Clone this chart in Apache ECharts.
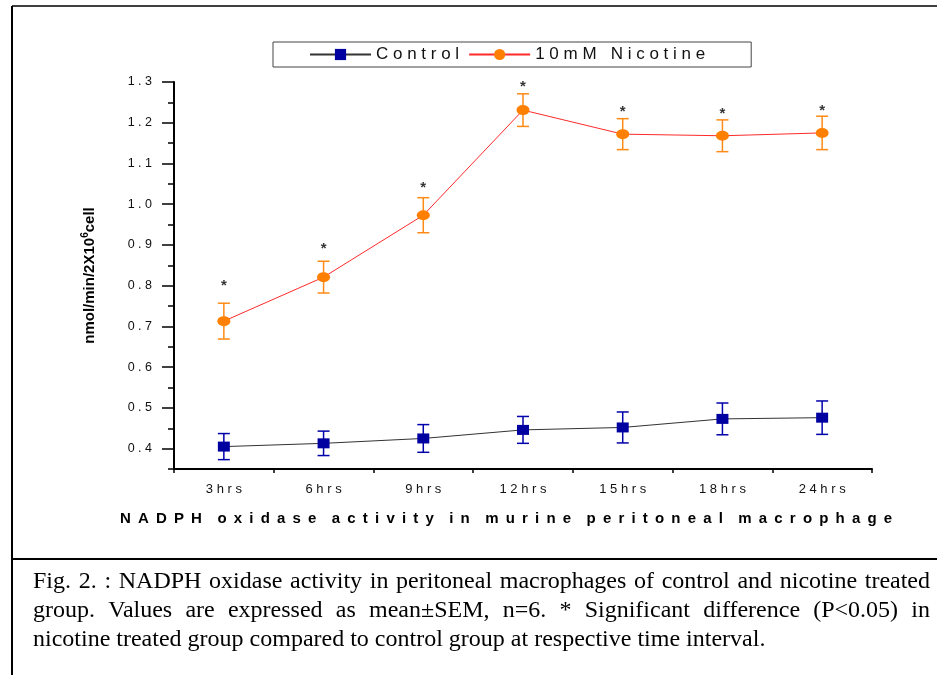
<!DOCTYPE html>
<html>
<head>
<meta charset="utf-8">
<script src="https://cdn.jsdelivr.net/npm/echarts@6/dist/echarts.min.js"></script>
<style>
html, body { margin: 0; padding: 0; background: #fff; }
#container { width: 937px; height: 675px; }
</style>
</head>
<body>
<div id="container"></div>
<script>
// values
var times = ['3hrs', '6hrs', '9hrs', '12hrs', '15hrs', '18hrs', '24hrs'];
var controlMean = [0.405, 0.413, 0.425, 0.446, 0.452, 0.473, 0.476];
var controlSem = [0.032, 0.030, 0.034, 0.033, 0.038, 0.039, 0.041];
var nicotineMean = [0.713, 0.821, 0.973, 1.231, 1.172, 1.168, 1.175];
var nicotineSem = [0.044, 0.039, 0.043, 0.040, 0.038, 0.039, 0.041];
var starLevel = [0.807, 0.897, 1.047, 1.295, 1.234, 1.229, 1.237];
var yMajor = [0.4, 0.5, 0.6, 0.7, 0.8, 0.9, 1.0, 1.1, 1.2, 1.3];
var yMinor = [0.35, 0.45, 0.55, 0.65, 0.75, 0.85, 0.95, 1.05, 1.15, 1.25];
var captionLines = [
    'Fig. 2. : NADPH oxidase activity in peritoneal macrophages of control and nicotine treated',
    'group. Values are expressed as mean\u00b1SEM, n=6. * Significant difference (P<0.05) in',
    'nicotine treated group compared to control group at respective time interval.'
];

var sans = "'Liberation Sans', Arial, sans-serif";

// spread letters out like the original scan
function spaced(s, gap, wordGap) {
    return s.split(' ').map(function (w) {
        return w.split('').join(gap);
    }).join(wordGap);
}

function errorSeries(name, mean, sem, color) {
    return {
        name: name + ' err',
        type: 'custom',
        z: 3,
        silent: true,
        data: times.map(function (t, i) { return [i, mean[i] - sem[i], mean[i] + sem[i]]; }),
        encode: { x: 0, y: [1, 2] },
        renderItem: function (params, api) {
            var lo = api.coord([api.value(0), api.value(1)]);
            var hi = api.coord([api.value(0), api.value(2)]);
            var w = 6;
            var st = { stroke: color, lineWidth: 1.5 };
            return {
                type: 'group',
                children: [
                    { type: 'line', shape: { x1: lo[0], y1: lo[1], x2: hi[0], y2: hi[1] }, style: st },
                    { type: 'line', shape: { x1: lo[0] - w, y1: lo[1], x2: lo[0] + w, y2: lo[1] }, style: st },
                    { type: 'line', shape: { x1: hi[0] - w, y1: hi[1], x2: hi[0] + w, y2: hi[1] }, style: st }
                ]
            };
        }
    };
}

// justified caption under the chart
var capFont = '24px "Liberation Serif", "Times New Roman", serif';
var ctx = document.createElement('canvas').getContext('2d');
ctx.font = capFont;
function captionGraphics() {
    var out = [];
    captionLines.forEach(function (line, li) {
        var y = 582 + li * 29;
        var words = line.split(' ');
        var widths = words.map(function (w) { return ctx.measureText(w).width; });
        var total = widths.reduce(function (a, b) { return a + b; }, 0);
        var justify = li < captionLines.length - 1;
        var gap = justify ? (930 - 33 - total) / (words.length - 1) : ctx.measureText(' ').width;
        var x = 33;
        words.forEach(function (w, i) {
            out.push({
                type: 'text', x: x, y: y, silent: true,
                style: { text: w, font: capFont, fill: '#000', verticalAlign: 'middle' }
            });
            x += widths[i] + gap;
        });
    });
    return out;
}

var gridBox = { left: 174, right: 65, top: 82, bottom: 206 };

var dom = document.getElementById('container');
var myChart = echarts.init(dom);
var option = {
    animation: false,
    backgroundColor: '#fff',
    textStyle: { fontFamily: sans },
    legend: {
        data: ['Control', '10mM Nicotine'],
        left: 273,
        top: 42,
        padding: [4, 46, 4, 36],
        itemWidth: 61,
        itemHeight: 14,
        itemGap: 9,
        borderColor: '#444',
        borderWidth: 1,
        backgroundColor: '#fff',
        textStyle: { fontFamily: sans, fontSize: 17, color: '#111' },
        formatter: function (n) { return spaced(n, ' ', '   '); }
    },
    // second grid on top of the first only carries the short ticks
    grid: [
        Object.assign({}, gridBox),
        Object.assign({}, gridBox)
    ],
    xAxis: [{
        type: 'category',
        gridIndex: 0,
        data: times,
        boundaryGap: true,
        name: spaced('NADPH oxidase activity in murine peritoneal macrophage', ' \u2009', '   \u2009'),
        nameLocation: 'middle',
        nameGap: 42,
        nameTextStyle: { fontFamily: sans, fontSize: 15, fontWeight: 'bold', color: '#000', padding: [0, 34, 0, 0] },
        axisLine: { lineStyle: { color: '#000', width: 2 } },
        axisTick: { alignWithLabel: true, length: 8, lineStyle: { color: '#000', width: 1.5 } },
        axisLabel: {
            margin: 14, fontSize: 13, color: '#111',
            formatter: function (v) { return spaced(v, ' ', ' '); }
        },
        splitLine: { show: false }
    }, {
        type: 'category',
        gridIndex: 1,
        data: times,
        boundaryGap: true,
        position: 'bottom',
        axisLine: { show: false },
        axisTick: { show: true, alignWithLabel: false, length: 4, lineStyle: { color: '#000', width: 1.5 } },
        axisLabel: { show: false },
        splitLine: { show: false }
    }],
    yAxis: [{
        type: 'value',
        gridIndex: 0,
        min: 0.35,
        max: 1.3,
        name: '{t|nmol/min/2X10}{s|6}{t|cell}',
        nameLocation: 'middle',
        nameGap: 74,
        nameTextStyle: {
            rich: {
                t: { fontFamily: sans, fontSize: 15, fontWeight: 'bold', color: '#000', lineHeight: 20 },
                s: { fontFamily: sans, fontSize: 10, fontWeight: 'bold', color: '#000', verticalAlign: 'top', lineHeight: 20 }
            }
        },
        axisLine: { show: true, lineStyle: { color: '#000', width: 2 } },
        axisTick: { show: true, customValues: yMajor, length: 12, lineStyle: { color: '#000', width: 1.5 } },
        axisLabel: {
            customValues: yMajor, margin: 22, fontSize: 12.5, color: '#111',
            formatter: function (v) { return spaced(v.toFixed(1), ' ', ' '); }
        },
        splitLine: { show: false }
    }, {
        type: 'value',
        gridIndex: 1,
        min: 0.35,
        max: 1.3,
        position: 'left',
        axisLine: { show: false },
        axisTick: { show: true, customValues: yMinor, length: 6, lineStyle: { color: '#000', width: 1.5 } },
        axisLabel: { show: false },
        splitLine: { show: false }
    }],
    graphic: [
        { type: 'line', silent: true, shape: { x1: 12, y1: 6, x2: 937, y2: 6 }, style: { stroke: '#000', lineWidth: 1.5 } },
        { type: 'line', silent: true, shape: { x1: 12, y1: 6, x2: 12, y2: 675 }, style: { stroke: '#000', lineWidth: 2 } },
        { type: 'line', silent: true, shape: { x1: 12, y1: 559, x2: 937, y2: 559 }, style: { stroke: '#000', lineWidth: 2 } }
    ].concat(captionGraphics()),
    series: [
        errorSeries('Control', controlMean, controlSem, '#0000aa'),
        errorSeries('10mM Nicotine', nicotineMean, nicotineSem, '#ff8a14'),
        {
            name: 'Control',
            type: 'line',
            z: 4,
            data: controlMean,
            symbol: 'rect',
            symbolSize: [12, 10],
            itemStyle: { color: '#0000a0' },
            lineStyle: { color: '#333', width: 1 }
        },
        {
            name: '10mM Nicotine',
            type: 'line',
            z: 4,
            data: nicotineMean,
            symbol: 'circle',
            symbolSize: [13, 10],
            itemStyle: { color: '#ff8000' },
            lineStyle: { color: '#ff2a2a', width: 1 }
        },
        {
            name: 'sig',
            type: 'scatter',
            z: 5,
            silent: true,
            data: times.map(function (t, i) { return [i, starLevel[i]]; }),
            symbolSize: 0,
            label: {
                show: true, position: 'inside', offset: [0, 3],
                formatter: '*', fontSize: 15, fontWeight: 'bold', color: '#000'
            }
        }
    ]
};
if (option && typeof option === "object") {
    myChart.setOption(option, true);
}
</script>
</body>
</html>
